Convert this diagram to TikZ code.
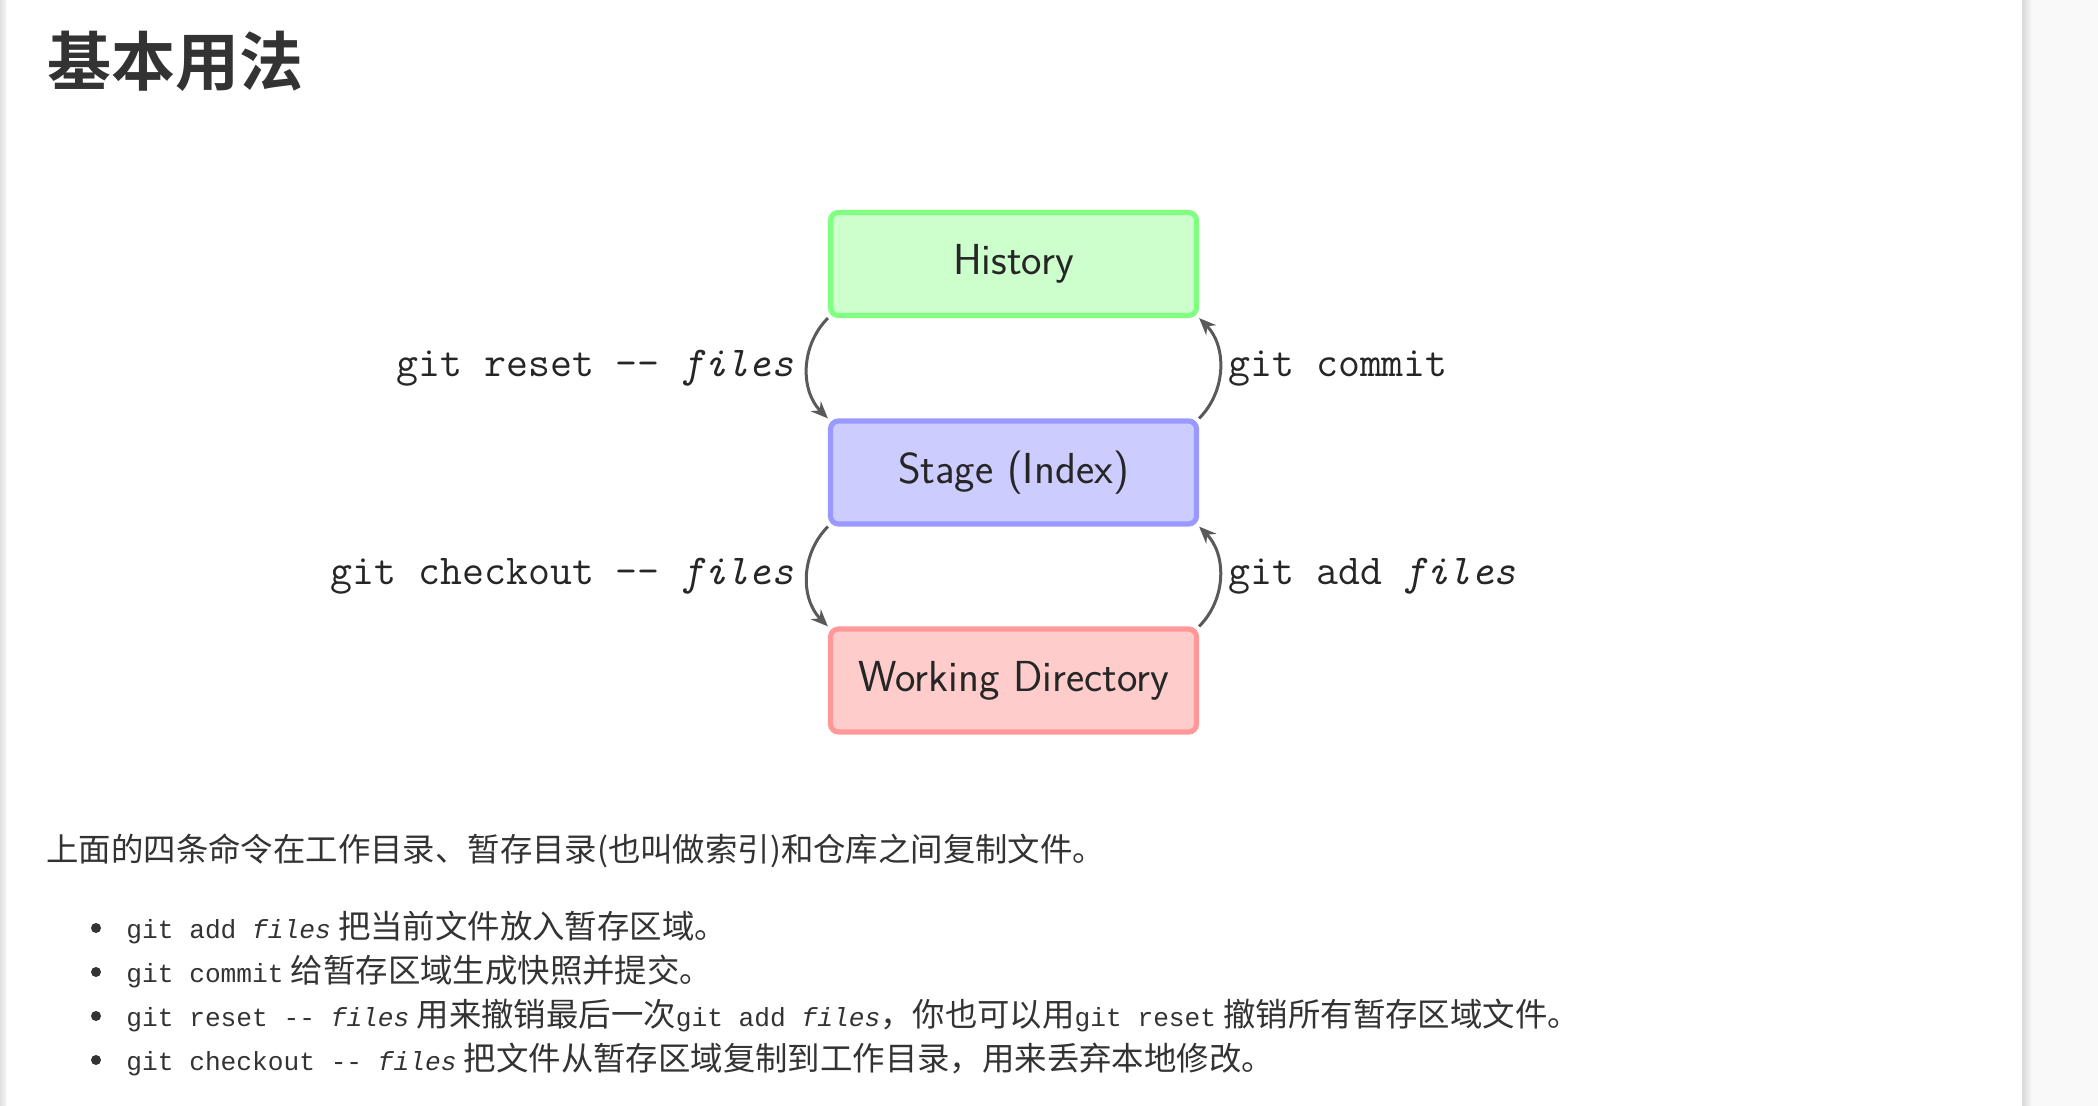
\documentclass[tikz,border=0pt]{standalone}
\usepackage{fontspec}
\usepackage{xcolor}
\usetikzlibrary{arrows.meta,positioning}
\newfontfamily\cjk{Noto Sans CJK SC}
\newfontfamily\cjkbold{Noto Sans CJK SC Bold}
\newfontfamily\codefont{Liberation Mono}
\newcommand{\cmdtext}[1]{{\codefont\fontsize{13.1}{15}\selectfont #1}}
\definecolor{histfill}{HTML}{CCFFCC}
\definecolor{histline}{HTML}{80FF80}
\definecolor{stagefill}{HTML}{CCCCFF}
\definecolor{stageline}{HTML}{9999FF}
\definecolor{workfill}{HTML}{FFCCCC}
\definecolor{workline}{HTML}{FF9999}
\definecolor{arrowgray}{HTML}{5A5A5A}
\definecolor{textgray}{HTML}{333333}
\definecolor{pagegray}{HTML}{F9F9F9}
\begin{document}
\begin{tikzpicture}[x=0.5pt,y=0.5pt,
    area/.style={draw, line width=2.6pt, rounded corners=4pt, minimum width=183pt, minimum height=51.5pt, font=\sffamily\fontsize{21.7}{26}\selectfont, text=black!85},
    move/.style={draw=arrowgray, line width=1.5pt, -{Stealth[length=8.5pt,width=7pt]}, bend right=45},
    cmd/.style={inner sep=0pt, font=\ttfamily\fontsize{21.3}{25}\selectfont, text=black!85},
    body/.style={inner sep=0pt, anchor=base west, text=textgray, font=\cjk\fontsize{16.2}{19}\selectfont},
    dot/.style={circle, fill=textgray, inner sep=0pt, minimum size=5pt}]
    \fill[white] (0,0) rectangle (2098,-1106);
    \shade[left color=black!12, right color=black!4] (0,0) rectangle (6,-1106);
    \fill[pagegray] (2022,0) rectangle (2098,-1106);
    \shade[left color=black!15, right color=pagegray] (2022,0) rectangle (2032,-1106);

    \node[anchor=base west, inner sep=0pt, text=textgray, font=\cjkbold\fontsize{32}{37}\selectfont] (title) at (47,-86) {基本用法};

    \node[area, fill=histfill, draw=histline] (hist) at (1013.5,-264) {History};
    \node[area, fill=stagefill, draw=stageline] (stage) at (1013.5,-472.5) {Stage (Index)};
    \node[area, fill=workfill, draw=workline] (work) at (1013.5,-680.5) {Working Directory};

    \draw[move] (hist.south west) to (stage.north west);
    \draw[move] (stage.south west) to (work.north west);
    \draw[move] (stage.north east) to (hist.south east);
    \draw[move] (work.north east) to (stage.south east);

    \node[cmd, anchor=base east] (reset) at (794,-377) {git reset -{}- \textit{files}};
    \node[cmd, anchor=base east] (checkout) at (794,-584) {git checkout -{}- \textit{files}};
    \node[cmd, anchor=base west] (commit) at (1228,-377) {git commit};
    \node[cmd, anchor=base west] (add) at (1228,-584) {git add \textit{files}};

    \node[body] (intro) at (46,-861) {上面的四条命令在工作目录、暂存目录(也叫做索引)和仓库之间复制文件。};

    \node[dot] (dot1) at (96,-928) {};
    \node[dot] (dot2) at (96,-972) {};
    \node[dot] (dot3) at (96,-1016) {};
    \node[dot] (dot4) at (96,-1060) {};
    \node[body] (item1) at (126,-938) {\cmdtext{git add \textit{files}} 把当前文件放入暂存区域。};
    \node[body] (item2) at (126,-982) {\cmdtext{git commit} 给暂存区域生成快照并提交。};
    \node[body] (item3) at (126,-1026) {\cmdtext{git reset -{}- \textit{files}} 用来撤销最后一次\cmdtext{git add \textit{files}}，你也可以用\cmdtext{git reset} 撤销所有暂存区域文件。};
    \node[body] (item4) at (126,-1070) {\cmdtext{git checkout -{}- \textit{files}} 把文件从暂存区域复制到工作目录，用来丢弃本地修改。};
\end{tikzpicture}
\end{document}
